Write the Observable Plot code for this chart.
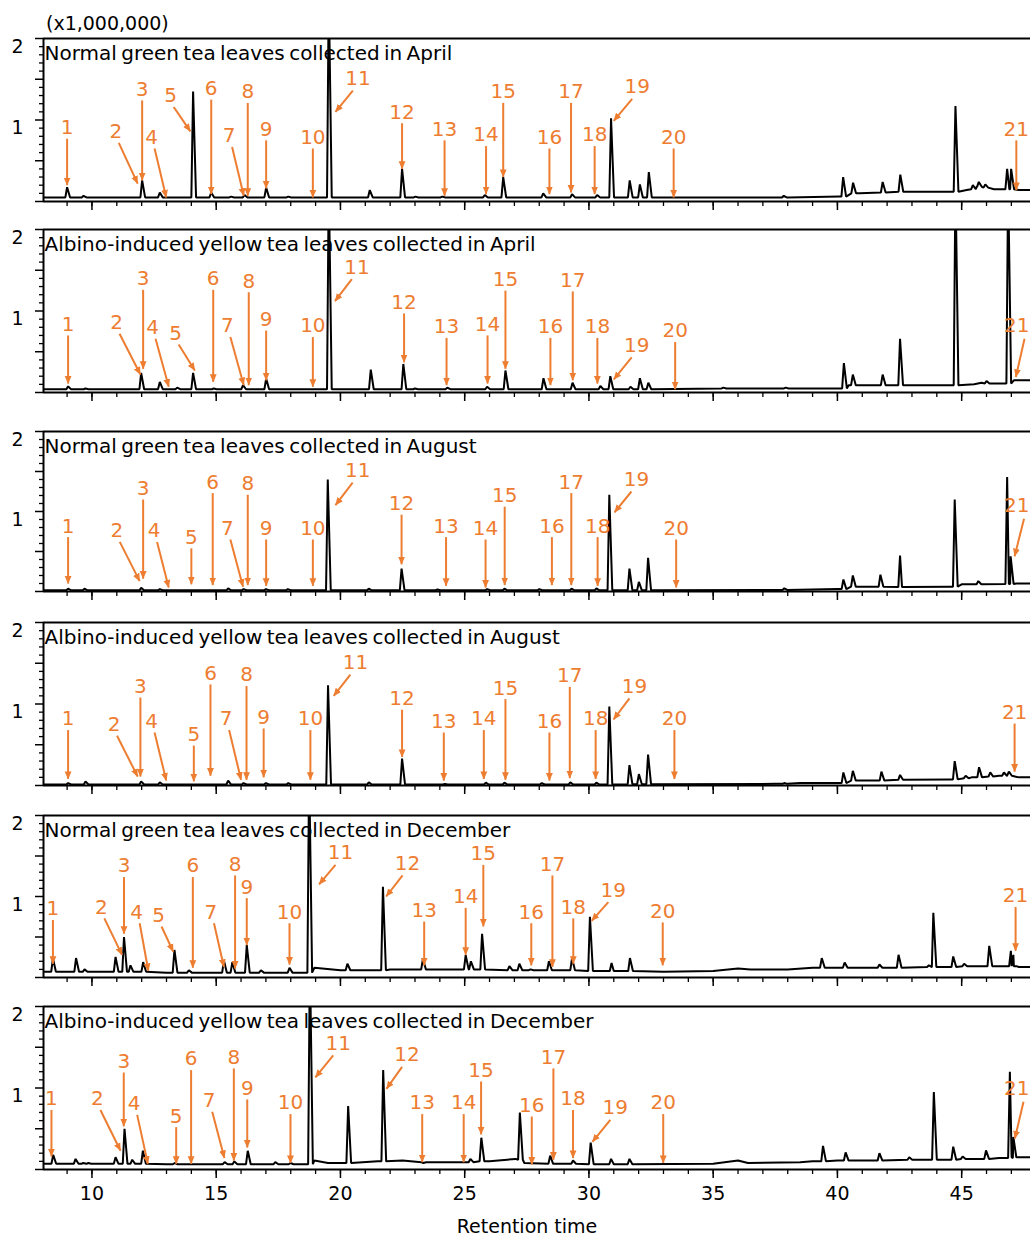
<!DOCTYPE html>
<html><head><meta charset="utf-8">
<script src="https://cdn.jsdelivr.net/npm/d3@7"></script>
<script src="https://cdn.jsdelivr.net/npm/@observablehq/plot@0.6"></script>
<style>
html,body{margin:0;padding:0;background:#fff;}
#chart{position:relative;width:1030px;height:1236px;overflow:hidden;font-family:"DejaVu Sans",sans-serif;background:#fff;}
#chart svg{position:absolute;left:0;overflow:hidden;}
.lbl{position:absolute;font-size:19px;line-height:16px;color:#000;white-space:nowrap;}
g[aria-description="title"] text{word-spacing:-2px;}
</style></head><body><div id="chart"></div>
<script>
// ---------- data ----------
const titles = [
  "Normal green tea leaves collected in April",
  "Albino-induced yellow tea leaves collected in April",
  "Normal green tea leaves collected in August",
  "Albino-induced yellow tea leaves collected in August",
  "Normal green tea leaves collected in December",
  "Albino-induced yellow tea leaves collected in December"
];
const unitLabel = "(x1,000,000)";
const xTitle = "Retention time";
const xDomain = [8.05, 47.77];
const yDomain = [0, 2];
const xMajorTicks = [10, 15, 20, 25, 30, 35, 40, 45];
const xMinorTicks = [9,10,11,12,13,14,15,16,17,18,19,20,21,22,23,24,25,26,27,28,29,30,31,32,33,34,35,36,37,38,39,40,41,42,43,44,45,46,47];
const yMajorTicks = [0, 0.5, 1, 1.5, 2];
const yMinorTicks = [0.1,0.2,0.3,0.4,0.6,0.7,0.8,0.9,1.1,1.2,1.3,1.4,1.6,1.7,1.8,1.9];
const yLabelTicks = [1, 2];
const frameY = [0, 2];

// baseline points [retention time, intensity x1e6]
const base1 = [[8.05,0.05],[20,0.05],[33,0.05],[38,0.05],[40.1,0.06],[40.9,0.10],[44.5,0.12],[45.2,0.14],[45.6,0.18],[46.3,0.15],[47.3,0.14],[47.77,0.14]];
const base2 = [[8.05,0.04],[39.9,0.05],[40.45,0.09],[44.5,0.09],[45.5,0.10],[45.8,0.12],[46.6,0.11],[47.1,0.15],[47.77,0.15]];
const base3 = [[8.05,0.015],[37,0.02],[40,0.03],[40.75,0.06],[42.6,0.055],[44.5,0.06],[45.0,0.09],[47.2,0.10],[47.77,0.10]];
const base4 = [[8.05,0.012],[37.5,0.02],[38.5,0.03],[40,0.03],[40.8,0.06],[42.7,0.07],[44.5,0.075],[45.4,0.10],[46.5,0.12],[47.3,0.10],[47.77,0.10]];
const base5 = [[8.05,0.07],[9,0.07],[13,0.06],[18.5,0.06],[18.95,0.12],[20,0.09],[21,0.09],[22,0.10],[27,0.09],[31,0.08],[33,0.07],[35,0.08],[36,0.11],[36.5,0.10],[38,0.10],[39,0.12],[42,0.12],[44,0.13],[46,0.14],[47.3,0.13],[47.77,0.13]];
const base6 = [[8.05,0.07],[13,0.065],[18.6,0.065],[18.95,0.11],[19.5,0.08],[21.5,0.10],[22.5,0.11],[24.5,0.09],[26,0.10],[27.05,0.13],[27.4,0.08],[31,0.065],[35,0.07],[36,0.11],[36.4,0.08],[38.5,0.09],[39,0.10],[40,0.11],[44,0.12],[46.5,0.14],[47.3,0.15],[47.77,0.15]];

// peaks [retention time, apex, foot level]  (apex 2.6 = off scale)
const peaks1 = [[9.0,0.175,0.05],[9.66,0.07,0.05],[12.02,0.26,0.05],[12.73,0.11,0.05],[14.07,1.35,0.05],[14.8,0.11,0.05],[15.6,0.06,0.05],[16.14,0.08,0.05],[17.01,0.17,0.05],[17.9,0.06,0.05],[19.53,2.6,0.05],[21.18,0.14,0.05],[22.48,0.40,0.05],[23.02,0.06,0.05],[24.1,0.06,0.05],[25.81,0.08,0.05],[26.55,0.30,0.05],[28.16,0.10,0.05],[29.32,0.09,0.05],[30.33,0.08,0.05],[30.89,1.02,0.05],[31.64,0.26,0.05],[32.05,0.21,0.05],[32.41,0.36,0.05],[37.84,0.07,0.05],[40.23,0.30,0.06],[40.63,0.23,0.10],[41.82,0.24,0.11],[42.53,0.33,0.12],[44.75,1.17,0.12],[45.45,0.20,0.15],[45.69,0.24,0.18],[45.95,0.21,0.17],[46.83,0.40,0.15],[46.99,0.40,0.15]];
const peaks2 = [[9.04,0.075,0.04],[9.74,0.05,0.04],[11.98,0.24,0.04],[12.73,0.13,0.04],[13.43,0.06,0.04],[14.07,0.24,0.04],[14.9,0.05,0.04],[16.08,0.09,0.04],[17.01,0.17,0.04],[19.53,2.6,0.04],[21.22,0.28,0.04],[22.53,0.35,0.04],[23.0,0.05,0.04],[24.3,0.06,0.04],[25.9,0.07,0.04],[26.64,0.27,0.04],[28.17,0.175,0.04],[29.34,0.12,0.04],[30.46,0.08,0.04],[30.86,0.20,0.04],[31.67,0.07,0.04],[32.05,0.175,0.04],[32.39,0.12,0.04],[35.41,0.06,0.05],[37.92,0.06,0.05],[40.26,0.36,0.05],[40.62,0.22,0.09],[41.82,0.22,0.09],[42.52,0.66,0.09],[44.75,2.6,0.09],[46.0,0.14,0.11],[46.87,2.6,0.11]];
const peaks3 = [[9.04,0.035,0.015],[9.7,0.035,0.015],[11.98,0.045,0.015],[12.73,0.03,0.015],[15.48,0.04,0.015],[16.1,0.03,0.015],[17.0,0.03,0.015],[17.88,0.03,0.015],[19.49,1.40,0.015],[21.14,0.035,0.015],[22.46,0.285,0.015],[23.9,0.025,0.015],[25.9,0.03,0.015],[26.6,0.035,0.015],[28.0,0.03,0.015],[29.3,0.035,0.015],[30.3,0.04,0.015],[30.82,1.21,0.015],[31.63,0.285,0.015],[32.01,0.12,0.015],[32.38,0.42,0.015],[37.86,0.04,0.02],[40.24,0.15,0.03],[40.62,0.20,0.06],[41.73,0.21,0.06],[42.52,0.45,0.055],[44.72,1.15,0.06],[45.67,0.13,0.09],[46.83,1.43,0.095],[46.97,0.44,0.095]];
const peaks4 = [[9.04,0.03,0.012],[9.74,0.05,0.012],[11.98,0.05,0.012],[12.73,0.04,0.012],[15.48,0.06,0.012],[16.1,0.03,0.012],[17.0,0.03,0.012],[17.9,0.03,0.012],[19.50,1.23,0.012],[21.14,0.04,0.012],[22.48,0.33,0.012],[24.2,0.02,0.012],[25.85,0.035,0.012],[26.6,0.035,0.012],[28.1,0.03,0.012],[29.25,0.04,0.012],[30.3,0.035,0.012],[30.82,0.97,0.012],[31.63,0.25,0.015],[32.01,0.14,0.015],[32.38,0.38,0.015],[37.86,0.03,0.02],[40.24,0.16,0.03],[40.62,0.18,0.06],[41.77,0.17,0.06],[42.52,0.13,0.07],[44.72,0.30,0.075],[45.16,0.12,0.09],[45.70,0.225,0.10],[46.15,0.16,0.11],[46.7,0.16,0.12],[46.9,0.17,0.12]];
const peaks5 = [[8.43,0.235,0.07],[9.36,0.24,0.07],[9.7,0.10,0.07],[10.95,0.255,0.07],[11.29,0.50,0.07],[11.55,0.15,0.07],[12.06,0.19,0.07],[13.32,0.34,0.06],[13.9,0.09,0.06],[15.31,0.21,0.06],[15.65,0.19,0.06],[16.23,0.40,0.06],[16.8,0.09,0.06],[17.95,0.12,0.06],[18.74,2.6,0.06],[20.28,0.17,0.09],[21.71,1.12,0.09],[23.32,0.23,0.10],[25.04,0.275,0.10],[25.25,0.20,0.10],[25.70,0.54,0.10],[26.8,0.14,0.09],[27.2,0.17,0.09],[27.65,0.10,0.09],[28.39,0.20,0.09],[29.32,0.235,0.09],[30.04,0.75,0.08],[30.91,0.18,0.08],[31.65,0.24,0.08],[39.37,0.24,0.12],[40.29,0.185,0.12],[41.69,0.16,0.12],[42.46,0.28,0.12],[43.68,0.15,0.13],[43.86,0.80,0.13],[44.66,0.26,0.13],[45.1,0.17,0.14],[46.11,0.39,0.14],[46.98,0.33,0.14],[47.08,0.28,0.14]];
const peaks6 = [[8.44,0.18,0.07],[9.34,0.13,0.07],[9.65,0.08,0.07],[9.85,0.08,0.07],[10.95,0.15,0.07],[11.31,0.50,0.07],[11.62,0.12,0.07],[12.05,0.23,0.07],[13.33,0.08,0.065],[15.34,0.09,0.065],[15.73,0.10,0.065],[16.27,0.23,0.065],[17.38,0.09,0.065],[17.99,0.08,0.065],[18.77,2.6,0.065],[20.31,0.78,0.08],[21.72,1.22,0.10],[23.33,0.08,0.09],[25.23,0.13,0.09],[25.67,0.39,0.10],[27.22,0.70,0.12],[28.44,0.17,0.07],[29.36,0.11,0.07],[30.07,0.33,0.065],[30.89,0.13,0.065],[31.63,0.13,0.065],[39.42,0.29,0.10],[40.33,0.21,0.11],[41.69,0.20,0.11],[42.89,0.15,0.12],[43.88,0.95,0.12],[44.66,0.28,0.12],[45.04,0.16,0.13],[45.98,0.235,0.13],[46.94,1.20,0.14],[47.08,0.40,0.15]];

// annotations [compound no., tail rt, tail y, tip rt, tip y]
const ann1 = [[1,9.0,0.77,9.0,0.20],[2,11.08,0.72,11.84,0.22],[3,12.02,1.24,12.02,0.26],[4,12.52,0.65,12.99,0.05],[5,13.29,1.16,13.96,0.86],[6,14.80,1.25,14.80,0.09],[7,15.64,0.67,16.11,0.07],[8,16.27,1.21,16.27,0.07],[9,17.01,0.75,17.01,0.16],[10,18.89,0.65,18.89,0.05],[11,20.50,1.36,19.80,1.10],[12,22.48,0.96,22.48,0.40],[13,24.19,0.75,24.19,0.07],[14,25.86,0.68,25.86,0.09],[15,26.55,1.21,26.55,0.30],[16,28.41,0.65,28.41,0.09],[17,29.28,1.21,29.28,0.11],[18,30.23,0.68,30.23,0.09],[19,31.74,1.26,31.0,0.99],[20,33.41,0.65,33.41,0.05],[21,47.20,0.75,47.20,0.14]];
const ann2 = [[1,9.04,0.70,9.04,0.11],[2,11.11,0.72,11.95,0.22],[3,12.06,1.26,12.06,0.29],[4,12.56,0.66,13.09,0.07],[5,13.49,0.59,14.14,0.27],[6,14.88,1.26,14.88,0.13],[7,15.57,0.68,16.11,0.09],[8,16.31,1.23,16.31,0.09],[9,17.01,0.76,17.01,0.15],[10,18.89,0.68,18.89,0.07],[11,20.46,1.39,19.78,1.12],[12,22.56,0.97,22.56,0.37],[13,24.27,0.67,24.27,0.09],[14,25.92,0.70,25.92,0.11],[15,26.64,1.25,26.64,0.29],[16,28.45,0.67,28.45,0.09],[17,29.35,1.24,29.35,0.15],[18,30.34,0.67,30.34,0.11],[19,31.72,0.43,31.0,0.16],[20,33.47,0.62,33.47,0.04],[21,47.53,0.66,47.18,0.19]];
const ann3 = [[1,9.04,0.68,9.04,0.10],[2,11.12,0.62,11.92,0.13],[3,12.06,1.15,12.06,0.16],[4,12.62,0.62,13.09,0.05],[5,14.0,0.54,14.0,0.09],[6,14.86,1.23,14.86,0.08],[7,15.57,0.65,16.08,0.06],[8,16.27,1.21,16.27,0.08],[9,17.01,0.65,17.01,0.07],[10,18.89,0.65,18.89,0.07],[11,20.49,1.36,19.80,1.08],[12,22.46,0.96,22.46,0.34],[13,24.25,0.68,24.25,0.07],[14,25.84,0.65,25.84,0.05],[15,26.61,1.06,26.61,0.08],[16,28.51,0.68,28.51,0.08],[17,29.29,1.23,29.29,0.08],[18,30.35,0.68,30.35,0.07],[19,31.71,1.25,31.03,0.99],[20,33.51,0.65,33.51,0.05],[21,47.51,0.91,47.13,0.44]];
const ann4 = [[1,9.04,0.68,9.04,0.08],[2,11.01,0.61,11.84,0.11],[3,11.95,1.08,11.95,0.11],[4,12.52,0.65,12.99,0.06],[5,14.10,0.49,14.10,0.05],[6,14.77,1.24,14.77,0.12],[7,15.52,0.68,16.0,0.07],[8,16.22,1.22,16.22,0.07],[9,16.91,0.70,16.91,0.10],[10,18.79,0.68,18.79,0.07],[11,20.40,1.36,19.73,1.10],[12,22.48,0.93,22.48,0.35],[13,24.16,0.65,24.16,0.06],[14,25.77,0.68,25.77,0.08],[15,26.64,1.06,26.64,0.07],[16,28.41,0.65,28.41,0.06],[17,29.23,1.21,29.23,0.09],[18,30.27,0.68,30.27,0.08],[19,31.63,1.07,30.99,0.81],[20,33.44,0.68,33.44,0.08],[21,47.13,0.76,47.13,0.17]];
const ann5 = [[1,8.43,0.71,8.43,0.17],[2,10.50,0.73,11.21,0.28],[3,11.29,1.24,11.29,0.54],[4,11.92,0.67,12.27,0.08],[5,12.80,0.63,13.27,0.32],[6,14.06,1.24,14.06,0.12],[7,14.91,0.67,15.31,0.13],[8,15.76,1.26,15.76,0.11],[9,16.23,0.98,16.23,0.40],[10,17.95,0.67,17.95,0.16],[11,19.80,1.39,19.14,1.15],[12,22.50,1.26,21.84,1.00],[13,23.37,0.69,23.37,0.15],[14,25.04,0.86,25.04,0.28],[15,25.75,1.39,25.75,0.63],[16,27.68,0.67,27.68,0.15],[17,28.53,1.26,28.53,0.13],[18,29.37,0.73,29.37,0.17],[19,30.78,0.93,30.11,0.70],[20,32.97,0.68,32.97,0.15],[21,47.17,0.87,47.17,0.33]];
const ann6 = [[1,8.37,0.73,8.37,0.16],[2,10.34,0.73,11.15,0.23],[3,11.28,1.19,11.28,0.53],[4,11.82,0.67,12.25,0.07],[5,13.39,0.52,13.39,0.07],[6,13.99,1.22,13.99,0.07],[7,14.84,0.71,15.33,0.14],[8,15.71,1.24,15.71,0.11],[9,16.25,0.86,16.25,0.27],[10,17.99,0.68,17.99,0.08],[11,19.71,1.40,18.99,1.13],[12,22.48,1.26,21.85,0.99],[13,23.29,0.68,23.29,0.09],[14,24.96,0.68,24.96,0.09],[15,25.66,1.08,25.66,0.43],[16,27.70,0.65,27.70,0.06],[17,28.57,1.24,28.57,0.12],[18,29.36,0.73,29.36,0.14],[19,30.86,0.61,30.14,0.34],[20,32.99,0.68,32.99,0.08],[21,47.49,0.83,47.14,0.38]];

const baselines = [base1, base2, base3, base4, base5, base6];
const peakLists = [peaks1, peaks2, peaks3, peaks4, peaks5, peaks6];
const annotations = [ann1, ann2, ann3, ann4, ann5, ann6];

// ---------- layout / style ----------
const panelTop = [38, 229, 431, 622, 815, 1006];
const panelBottom = [201, 392, 591, 785, 977, 1169];
const ORANGE = "#ED7D31";
const FONT = "DejaVu Sans";
const EDGE_RT = 47.3; // labels whose arrow tail is beyond this hug the right edge

function trace(base, peaks) {
  const pts = base.map(([rt, v]) => ({rt, v}));
  for (const [rt, top, foot] of peaks) {
    pts.push({rt: rt - 0.07, v: foot}, {rt, v: top}, {rt: rt + 0.12, v: foot});
  }
  return pts.sort((a, b) => a.rt - b.rt);
}

function headMarker(color, context) {
  const doc = (context && context.document) || document;
  const ns = "http://www.w3.org/2000/svg";
  const m = doc.createElementNS(ns, "marker");
  m.setAttribute("viewBox", "0 -5 10 10");
  m.setAttribute("refX", "9.5");
  m.setAttribute("refY", "0");
  m.setAttribute("markerUnits", "userSpaceOnUse");
  m.setAttribute("markerWidth", "8");
  m.setAttribute("markerHeight", "8");
  m.setAttribute("orient", "auto");
  const p = doc.createElementNS(ns, "path");
  p.setAttribute("d", "M0,-4.3L10,0L0,4.3Z");
  p.setAttribute("fill", color);
  p.setAttribute("stroke", "none");
  m.appendChild(p);
  return m;
}

function makePanel(i, markerEnd) {
  const T = panelTop[i], B = panelBottom[i];
  const last = i === titles.length - 1;
  const mt = 6, mb = last ? 40 : 14;
  const ann = annotations[i].map(([n, x1, y1, x2, y2]) => ({n: String(n), x1, y1, x2, y2}));
  const inner = ann.filter(d => d.x1 <= EDGE_RT);
  const edge = ann.filter(d => d.x1 > EDGE_RT);
  const vert = inner.filter(d => d.x1 === d.x2);
  const downRight = inner.filter(d => d.x2 > d.x1);
  const downLeft = inner.filter(d => d.x2 < d.x1);
  const txt = {x: "x1", y: "y1", text: "n", fill: ORANGE, fontSize: 20, textAnchor: "middle"};
  const svg = Plot.plot({
    width: 1030,
    height: B - T + mt + mb,
    marginTop: mt, marginBottom: mb, marginLeft: 43, marginRight: 0,
    x: {domain: xDomain, label: null},
    y: {domain: yDomain, label: null},
    style: {fontFamily: FONT, fontSize: "19px", color: "#000", background: "transparent"},
    marks: [
      Plot.axisY(yMinorTicks, {tickSize: 4, tickFormat: () => "", strokeWidth: 1.3}),
      Plot.axisY(yMajorTicks, {tickSize: 8, tickFormat: () => "", strokeWidth: 1.5}),
      Plot.text(yLabelTicks, {y: d => d, text: d => String(d), frameAnchor: "left", textAnchor: "end", dx: -20, dy: 8, fontSize: 19}),
      Plot.axisX(xMinorTicks, {tickSize: 5, tickFormat: () => "", strokeWidth: 1.3}),
      Plot.axisX(xMajorTicks, {tickSize: 9, tickPadding: 8, tickFormat: last ? d => String(d) : () => "", fontSize: 19, strokeWidth: 1.5}),
      Plot.text([titles[i]], {text: d => d, frameAnchor: "top-left", textAnchor: "start", lineAnchor: "top", dx: 1, dy: 7, fontSize: 20, ariaDescription: "title"}),
      Plot.line(trace(baselines[i], peakLists[i]), {x: "rt", y: "v", stroke: "#000", strokeWidth: 2, strokeLinejoin: "miter", clip: true}),
      Plot.ruleY(frameY, {strokeWidth: 2}),
      Plot.ruleX([xDomain[0]], {strokeWidth: 2}),
      Plot.link(ann, {x1: "x1", y1: "y1", x2: "x2", y2: "y2", stroke: ORANGE, strokeWidth: 2, markerEnd}),
      Plot.text(vert, {...txt, dy: -11}),
      Plot.text(downRight, {...txt, dx: -3, dy: -11}),
      Plot.text(downLeft, {...txt, dx: 5, dy: -12}),
      Plot.text(edge, {y: "y1", text: "n", fill: ORANGE, fontSize: 20, frameAnchor: "right", textAnchor: "end", dx: -1, dy: -13})
    ]
  });
  svg.style.top = (T - mt) + "px";
  return svg;
}

const chart = document.getElementById("chart");
for (let i = 0; i < titles.length; i++) {
  let svg;
  try { svg = makePanel(i, headMarker); }
  catch (e) { svg = makePanel(i, "arrow"); }
  chart.appendChild(svg);
}
const u = document.createElement("div");
u.className = "lbl"; u.textContent = unitLabel;
u.style.left = "46px"; u.style.top = "15px";
chart.appendChild(u);
const xt = document.createElement("div");
xt.className = "lbl"; xt.textContent = xTitle;
xt.style.left = "427px"; xt.style.width = "200px"; xt.style.textAlign = "center"; xt.style.top = "1218px";
chart.appendChild(xt);
</script></body></html>
